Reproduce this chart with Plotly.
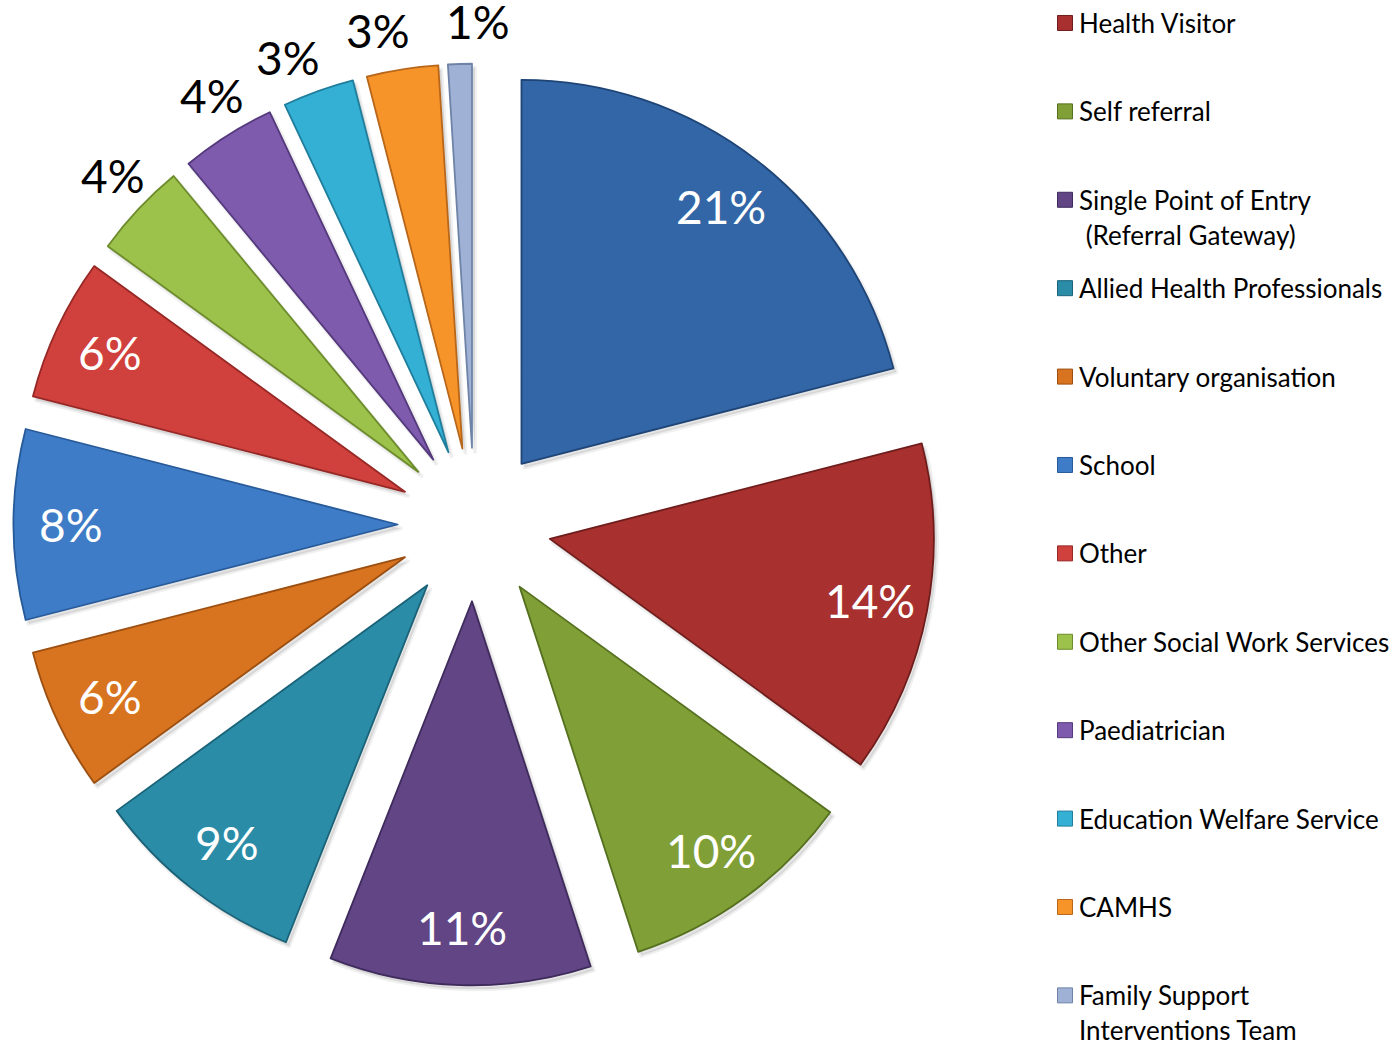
import math
import plotly.graph_objects as go

# Referral sources, in clockwise order starting at 12 o'clock
categories = [
    "Social Work",
    "Health Visitor",
    "Self referral",
    "Single Point of Entry\n\u00a0(Referral Gateway)",
    "Allied Health Professionals",
    "Voluntary organisation",
    "School",
    "Other",
    "Other Social Work Services",
    "Paediatrician",
    "Education Welfare Service",
    "CAMHS",
    "Family Support\nInterventions Team",
]
shares = [21, 14, 10, 11, 9, 6, 8, 6, 4, 4, 3, 3, 1]

slice_colors = [
    "#3366a6", "#a8312f", "#809f36", "#614585", "#2b8ca8", "#d8741f",
    "#3f7cc7", "#d0403c", "#9dc24b", "#7e5bad", "#35b0d5", "#f79429",
    "#9fb2d6",
]
edge_colors = [
    "#1f4577", "#6e1d1c", "#55701f", "#3f2b5c", "#1a6378", "#9c4f10",
    "#275a99", "#962826", "#6d8c2c", "#55397d", "#1f7e9c", "#b8661a",
    "#6f83a8",
]

W, H = 1394, 1044
font_family = "Lato, 'Open Sans', sans-serif"

# Pie geometry (pixels): centre, radius and how far each slice is exploded
CX, CY = 474.4, 524.5
RADIUS = 384.0
PULL = 0.2
half = RADIUS * (1 + PULL)

# Small angular nudges (degrees) that keep the crowded outside labels apart
label_nudge = [0, 0, 0, 0, 0, 0, 0, 0, 0.8, 1.0, -2.0, -2.1, 2.2]


def pie_domain(dx=0.0, dy=0.0):
    return dict(
        x=[(CX + dx - half) / W, (CX + dx + half) / W],
        y=[1 - (CY + dy + half) / H, 1 - (CY + dy - half) / H],
    )


pie_labels = [c.replace("\n", " ").replace("\u00a0", "") for c in categories]

fig = go.Figure()

# Soft drop shadow under the exploded slices
fig.add_trace(go.Pie(
    labels=pie_labels,
    values=shares,
    sort=False,
    direction="clockwise",
    rotation=0,
    pull=[PULL] * len(shares),
    marker=dict(colors=["rgba(0,0,0,0.10)"] * len(shares),
                line=dict(color="rgba(0,0,0,0.06)", width=4)),
    textinfo="none",
    showlegend=False,
    hoverinfo="skip",
    domain=pie_domain(3, 4),
))

fig.add_trace(go.Pie(
    labels=pie_labels,
    values=shares,
    sort=False,
    direction="clockwise",
    rotation=0,
    pull=[PULL] * len(shares),
    marker=dict(colors=slice_colors, line=dict(color=edge_colors, width=1.8)),
    textinfo="none",
    showlegend=False,
    hoverinfo="label+value",
    domain=pie_domain(),
))

# Percentage labels on the slice bisectors: big slices inside, thin ones outside
total = sum(shares)
cum = 0
for v, nudge in zip(shares, label_nudge):
    theta = 2 * math.pi * (cum + v / 2) / total + math.radians(nudge)
    cum += v
    inside = v >= 6
    r_lab = 403 if inside else 503
    px = CX + r_lab * math.sin(theta)
    py = CY - r_lab * math.cos(theta)
    fig.add_annotation(
        x=px / W, y=1 - py / H, xref="paper", yref="paper",
        text=f"{v}%", showarrow=False,
        xanchor="center", yanchor="middle",
        font=dict(family=font_family, size=46,
                  color="white" if inside else "black"),
    )

# Legend column: one square marker per referral source (the first is off the top)
legend_items = list(range(1, len(categories)))
fig.add_trace(go.Scatter(
    x=[1065] * len(legend_items),
    y=[i - 1 for i in legend_items],
    mode="markers",
    marker=dict(
        symbol="square",
        size=15,
        color=[slice_colors[i] for i in legend_items],
        line=dict(color=[edge_colors[i] for i in legend_items], width=1),
    ),
    hoverinfo="skip",
    showlegend=False,
))

line_step = 0.396
for i in legend_items:
    for k, line in enumerate(categories[i].split("\n")):
        fig.add_annotation(
            x=1077, y=(i - 1) + k * line_step,
            xref="x", yref="y",
            text=line, showarrow=False,
            xanchor="left", yanchor="middle",
            font=dict(family=font_family, size=26, color="black"),
        )

fig.update_layout(
    width=W, height=H,
    margin=dict(l=0, r=0, t=0, b=0, pad=0, autoexpand=False),
    paper_bgcolor="white",
    plot_bgcolor="rgba(0,0,0,0)",
    showlegend=False,
    xaxis=dict(range=[0, W], visible=False, fixedrange=True),
    yaxis=dict(range=[11.55, -0.26], visible=False, fixedrange=True),
)

fig.write_html("out.html")
